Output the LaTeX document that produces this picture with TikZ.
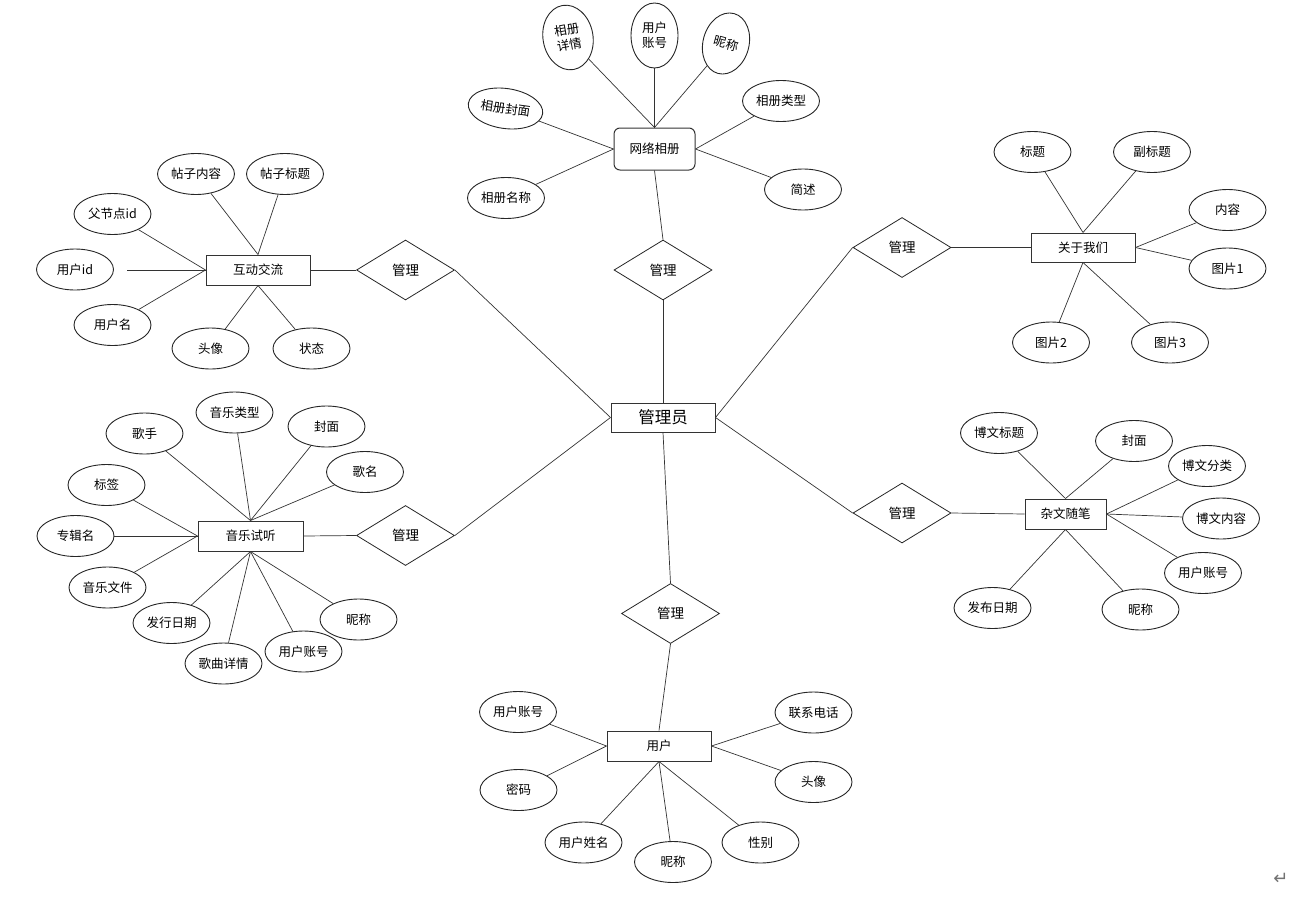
\documentclass[tikz,border=0pt]{standalone}
\usepackage{fontspec}
\setmainfont{Noto Sans CJK SC}
\newfontfamily\symfont{DejaVu Sans}
\usetikzlibrary{shapes.geometric}
\begin{document}
\begin{tikzpicture}[x=1pt,y=-1pt,
  attr/.style={ellipse, draw=black!85, line width=0.9pt, minimum width=77pt, minimum height=41pt, inner sep=0pt, fill=white, font=\fontsize{12.5}{14}\selectfont},
  ent/.style={rectangle, draw=black!80, line width=1pt, minimum width=104pt, minimum height=30pt, inner sep=0pt, fill=white, font=\fontsize{12.5}{14}\selectfont},
  rel/.style={diamond, draw=black!85, line width=0.8pt, minimum width=98pt, minimum height=60pt, inner sep=0pt, fill=white, font=\fontsize{13.5}{15}\selectfont},
  link/.style={draw=black!80, line width=0.7pt}]
\useasboundingbox (0,0) rectangle (1292,902);

% central entity and relations
\node[ent, minimum width=104pt, minimum height=29pt, font=\fontsize{16.5}{18}\selectfont] (admin) at (663,417.5) {管理员};
\node[rel] (rT)  at (663,270) {管理};
\node[rel] (rLT) at (405.5,270) {管理};
\node[rel] (rRT) at (902,247.5) {管理};
\node[rel] (rLB) at (405.5,535.5) {管理};
\node[rel] (rRB) at (902,513) {管理};
\node[rel] (rB)  at (670.5,613.5) {管理};

% entities
\node[ent, rounded corners=6pt, minimum width=81pt, minimum height=42pt] (album) at (654.5,149) {网络相册};
\node[ent] (forum) at (258,270) {互动交流};
\node[ent, minimum width=105pt] (music) at (250.5,536) {音乐试听};
\node[ent, minimum height=29pt] (about) at (1083,247.5) {关于我们};
\node[ent, minimum width=81pt] (essay) at (1065.5,514) {杂文随笔};
\node[ent] (user) at (659,746) {用户};

% relation links
\draw[link] (album.south) -- (rT.north);
\draw[link] (rT.south) -- (admin.north);
\draw[link] (rLT.east) -- (admin.west);
\draw[link] (rLB.east) -- (admin.west);
\draw[link] (rRT.west) -- (admin.east);
\draw[link] (rRB.west) -- (admin.east);
\draw[link] (rB.north) -- (admin.south);
\draw[link] (rB.south) -- (user.north);
\draw[link] (forum.east) -- (rLT.west);
\draw[link] (music.east) -- (rLB.west);
\draw[link] (rRT.east) -- (about.west);
\draw[link] (rRB.east) -- (essay.west);

% album attributes
\node[attr, minimum width=50pt, minimum height=65pt, rotate=10, align=center, font=\fontsize{12.5}{15}\selectfont] (a1) at (568,37.5) {相册\\详情};
\node[attr, minimum width=47pt, minimum height=65pt, align=center, font=\fontsize{12.5}{15}\selectfont] (a2) at (654.5,35.5) {用户\\账号};
\node[attr, minimum width=46pt, minimum height=62pt, rotate=-15] (a3) at (726,43.5) {昵称};
\node[attr, minimum width=75pt, minimum height=40pt, rotate=-8] (a4) at (505.5,108.5) {相册封面};
\node[attr] (a5) at (506,198) {相册名称};
\node[attr] (a6) at (781,101) {相册类型};
\node[attr] (a7) at (803,189.5) {简述};
\draw[link] (a1) -- (album.north);
\draw[link] (a2) -- (album.north);
\draw[link] (a3) -- (album.north);
\draw[link] (a4) -- (album.west);
\draw[link] (a5) -- (album.west);
\draw[link] (a6) -- (album.east);
\draw[link] (a7) -- (album.east);

% forum attributes
\node[attr] (f1) at (196,174) {帖子内容};
\node[attr] (f2) at (285,174) {帖子标题};
\node[attr] (f3) at (112.5,214) {父节点id};
\node[attr] (f4) at (75,269.5) {用户id};
\node[attr] (f5) at (112.5,325) {用户名};
\node[attr] (f6) at (210.5,348.5) {头像};
\node[attr] (f7) at (311.5,348.5) {状态};
\coordinate (fid) at (127,270);
\draw[link] (f1) -- (forum.north);
\draw[link] (f2) -- (forum.north);
\draw[link] (f3) -- (forum.west);
\draw[link] (fid) -- (forum.west);
\draw[link] (f5) -- (forum.west);
\draw[link] (f6) -- (forum.south);
\draw[link] (f7) -- (forum.south);

% music attributes
\node[attr] (m1) at (234.5,412.5) {音乐类型};
\node[attr] (m2) at (144.5,433.5) {歌手};
\node[attr] (m3) at (326.5,426.5) {封面};
\node[attr] (m4) at (365,472) {歌名};
\node[attr] (m5) at (106.5,485) {标签};
\node[attr] (m6) at (75.5,536) {专辑名};
\node[attr] (m7) at (107.5,587.5) {音乐文件};
\node[attr] (m8) at (171.5,623) {发行日期};
\node[attr] (m9) at (223.5,663.5) {歌曲详情};
\node[attr] (m10) at (303.5,651.5) {用户账号};
\node[attr] (m11) at (358.5,619.5) {昵称};
\foreach \n in {m1,m2,m3,m4} \draw[link] (\n) -- (music.north);
\foreach \n in {m5,m6,m7} \draw[link] (\n) -- (music.west);
\foreach \n in {m8,m9,m10,m11} \draw[link] (\n) -- (music.south);

% about attributes
\node[attr] (b1) at (1032.5,152) {标题};
\node[attr] (b2) at (1152,152) {副标题};
\node[attr] (b3) at (1227.5,210) {内容};
\node[attr] (b4) at (1227.5,268.5) {图片1};
\node[attr] (b5) at (1051,342.5) {图片2};
\node[attr] (b6) at (1170,342.5) {图片3};
\draw[link] (b1) -- (about.north);
\draw[link] (b2) -- (about.north);
\draw[link] (b3) -- (about.east);
\draw[link] (b4) -- (about.east);
\draw[link] (b5) -- (about.south);
\draw[link] (b6) -- (about.south);

% essay attributes
\node[attr] (e1) at (999,433) {博文标题};
\node[attr] (e2) at (1134,441) {封面};
\node[attr] (e3) at (1207,466) {博文分类};
\node[attr] (e4) at (1221,518.5) {博文内容};
\node[attr] (e5) at (1203,573) {用户账号};
\node[attr] (e6) at (992.5,608) {发布日期};
\node[attr] (e7) at (1140.5,609.5) {昵称};
\draw[link] (e1) -- (essay.north);
\draw[link] (e2) -- (essay.north);
\draw[link] (e3) -- (essay.east);
\draw[link] (e4) -- (essay.east);
\draw[link] (e5) -- (essay.east);
\draw[link] (e6) -- (essay.south);
\draw[link] (e7) -- (essay.south);

% user attributes
\node[attr] (u1) at (518,712) {用户账号};
\node[attr] (u2) at (518.5,790) {密码};
\node[attr] (u3) at (583.5,842.5) {用户姓名};
\node[attr] (u4) at (673,862) {昵称};
\node[attr] (u5) at (760.5,842.5) {性别};
\node[attr] (u6) at (813.5,712.5) {联系电话};
\node[attr] (u7) at (813.5,782) {头像};
\draw[link] (u1) -- (user.west);
\draw[link] (u2) -- (user.west);
\draw[link] (u3) -- (user.south);
\draw[link] (u4) -- (user.south);
\draw[link] (u5) -- (user.south);
\draw[link] (u6) -- (user.east);
\draw[link] (u7) -- (user.east);

% paragraph mark
\node[text=black!55, font=\symfont\fontsize{18}{18}\selectfont, inner sep=0pt] (pm) at (1281,879) {↵};
\end{tikzpicture}
\end{document}
